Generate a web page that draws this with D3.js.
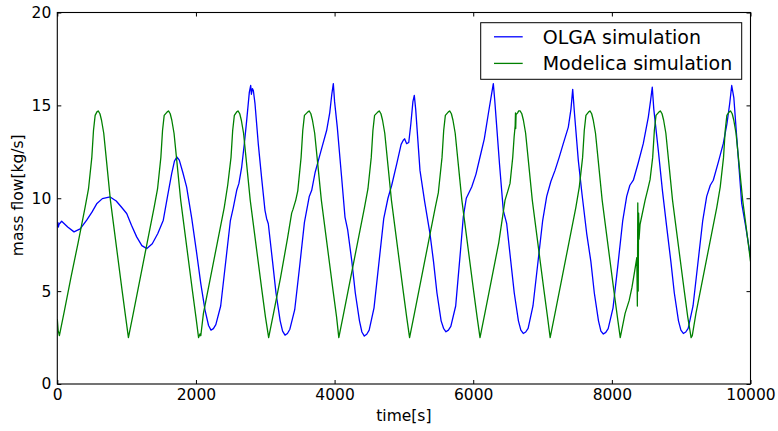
<!DOCTYPE html>
<html>
<head>
<meta charset="utf-8">
<script src="https://cdn.jsdelivr.net/npm/d3@7/dist/d3.min.js"></script>
<style>
  html, body { margin: 0; padding: 0; background: #fff; }
  svg { display: block; }
  text { font-family: "DejaVu Sans", sans-serif; fill: #000; }
</style>
</head>
<body>
<svg id="chart" width="778" height="431"></svg>
<script>
// ---- data ----
const xTicks = [0, 2000, 4000, 6000, 8000, 10000];
const yTicks = [0, 5, 10, 15, 20];
const seriesNames = ["OLGA simulation", "Modelica simulation"];

const olgaTime = [0, 8, 15, 25, 63, 150, 241, 330, 424, 500, 568, 650, 762, 850, 930, 1001, 1070, 1145, 1220, 1292,
  1370, 1450, 1529, 1590, 1650, 1690, 1725, 1760, 1810, 1866,
  1940, 2011, 2070, 2131, 2182, 2217, 2252, 2287, 2357, 2427, 2497, 2539, 2588, 2620, 2660, 2700, 2732, 2770, 2790, 2800,
  2814, 2828, 2852, 2900, 2950, 2996, 3020, 3044,
  3105, 3155, 3215, 3250, 3285, 3320, 3355, 3425, 3495, 3565, 3635, 3670, 3720, 3800, 3886, 3930, 3960, 3982, 4000, 4039,
  4100, 4150, 4189, 4249, 4299, 4359, 4394, 4429, 4464, 4499, 4569, 4639, 4709, 4770, 4824, 4900, 4960, 4991, 5010, 5040,
  5070, 5100, 5130, 5150, 5170, 5232, 5300, 5376, 5427, 5477, 5537, 5572, 5607, 5642, 5677, 5747, 5817, 5857, 5900, 5978,
  6040, 6098, 6160, 6218, 6260, 6290, 6310, 6340, 6380, 6434, 6483, 6542, 6592, 6652, 6687, 6722, 6757, 6792, 6862, 6932,
  7002, 7060, 7120, 7180, 7240, 7299, 7372, 7410, 7435, 7460, 7516, 7570, 7637, 7697, 7747, 7807, 7842, 7877, 7912, 7947,
  8017, 8087, 8157, 8214, 8260, 8310, 8380, 8453, 8526, 8560, 8583, 8605, 8670, 8730, 8791, 8851, 8901, 8961, 8996, 9031,
  9066, 9101, 9171, 9241, 9311, 9368, 9420, 9463, 9540, 9607, 9660, 9700, 9729, 9760, 9801, 9873, 9930, 10000];
const olgaFlow = [8.46, 8.7, 8.45, 8.6, 8.76, 8.45, 8.19, 8.35, 8.82, 9.25, 9.7, 9.98, 10.07, 9.85, 9.5, 9.18, 8.55, 7.92, 7.45, 7.29,
  7.55, 8.1, 8.82, 10.1, 11.33, 12.0, 12.22, 12.05, 11.4, 10.6,
  8.9, 7.03, 5.4, 3.98, 3.15, 2.9, 2.98, 3.2, 4.2, 6.5, 8.8, 9.5, 10.43, 10.8, 11.68, 13.0, 14.19, 15.7, 16.07, 15.6,
  15.9, 15.8, 15.09, 12.9, 11.0, 9.35, 8.9, 8.63,
  6.6, 4.9, 3.4, 2.85, 2.63, 2.72, 2.95, 4.0, 6.3, 8.7, 10.1, 10.43, 11.4, 12.5, 13.66, 14.6, 15.6, 16.17, 15.2, 13.83,
  11.2, 8.99, 8.3, 6.6, 4.9, 3.4, 2.8, 2.58, 2.68, 2.9, 4.1, 6.5, 8.9, 10.0, 10.7, 11.9, 12.9, 13.12, 13.2, 12.94,
  13.0, 14.0, 15.2, 15.54, 14.8, 11.5, 9.8, 8.1, 6.6, 4.9, 3.4, 3.0, 2.81, 2.9, 3.1, 4.2, 7.2, 9.0, 10.0, 10.61,
  11.3, 12.22, 13.2, 14.55, 15.5, 16.17, 15.3, 13.8, 11.8, 9.35, 8.63, 6.6, 4.9, 3.4, 2.9, 2.72, 2.8, 3.0, 4.2, 6.5,
  8.8, 10.1, 10.9, 11.5, 12.2, 12.94, 13.83, 14.8, 15.86, 14.6, 12.04, 10.2, 8.1, 6.6, 4.9, 3.4, 2.85, 2.69, 2.78, 2.98,
  4.1, 6.4, 8.8, 10.1, 10.7, 10.97, 11.9, 12.94, 14.37, 15.3, 15.98, 14.8, 12.58, 10.4, 8.46, 6.6, 4.9, 3.4, 2.9, 2.72,
  2.8, 3.0, 4.2, 6.5, 8.8, 10.1, 10.7, 10.97, 12.0, 12.94, 14.0, 15.1, 16.07, 15.4, 13.3, 9.72, 8.5, 6.84];

const modelicaTime = [0, 12, 30, 100, 200, 300, 400, 450, 498, 522, 546, 572, 590, 615, 638, 670, 718, 766, 856, 936, 986,
  1026, 1096, 1196, 1296, 1396, 1446, 1494, 1518, 1542, 1586, 1604, 1629, 1652, 1684, 1732, 1780, 1870, 1950, 2000,
  2038, 2060, 2070, 2108, 2208, 2308, 2408, 2458, 2506, 2530, 2554, 2589, 2607, 2632, 2655, 2687, 2735, 2783, 2873, 2953, 3003,
  3049, 3119, 3219, 3319, 3381, 3400, 3440, 3469, 3517, 3541, 3565, 3615, 3633, 3658, 3681, 3713, 3761, 3809, 3899, 3979, 4029,
  4061, 4131, 4231, 4331, 4431, 4481, 4529, 4553, 4577, 4626, 4644, 4669, 4692, 4724, 4772, 4820, 4910, 4990, 5040,
  5082, 5152, 5252, 5352, 5452, 5497, 5502, 5550, 5574, 5598, 5642, 5660, 5685, 5708, 5740, 5788, 5836, 5926, 6006, 6056,
  6098, 6168, 6268, 6368, 6459, 6500, 6531, 6570, 6590, 6605, 6610, 6613, 6618, 6640, 6656, 6676, 6701, 6724, 6756, 6804, 6852, 6942, 7022, 7072,
  7110, 7180, 7280, 7380, 7480, 7530, 7578, 7602, 7626, 7666, 7684, 7709, 7732, 7764, 7812, 7860, 7950, 8030, 8080,
  8121, 8191, 8250, 8290, 8330, 8360, 8368, 8374, 8380, 8386, 8392, 8407, 8480, 8520, 8551, 8589, 8613, 8637, 8681, 8699,
  8724, 8747, 8779, 8827, 8875, 8965, 9045, 9095,
  9143, 9160, 9213, 9313, 9413, 9513, 9563, 9611, 9635, 9659, 9693, 9711, 9736, 9759, 9791, 9839, 9887, 9977, 10000];
const modelicaFlow = [3.5, 2.9, 2.6, 3.9, 5.8, 7.6, 9.5, 10.5, 12.2, 13.65, 14.46, 14.65, 14.7, 14.55, 14.2, 13.5, 11.7, 9.9, 7.3, 5.0, 3.6,
  2.5, 3.8, 5.7, 7.6, 9.5, 10.5, 12.2, 13.65, 14.46, 14.65, 14.7, 14.55, 14.2, 13.5, 11.7, 9.9, 7.3, 5.0, 3.6,
  2.5, 2.7, 2.6, 3.8, 5.7, 7.6, 9.5, 10.7, 12.2, 13.65, 14.46, 14.65, 14.7, 14.55, 14.2, 13.5, 11.7, 9.9, 7.3, 5.0, 3.6,
  2.5, 3.8, 5.7, 7.8, 9.2, 9.4, 9.9, 10.4, 12.2, 13.65, 14.46, 14.65, 14.7, 14.55, 14.2, 13.5, 11.7, 9.9, 7.3, 5.0, 3.6,
  2.5, 3.8, 5.7, 7.6, 9.5, 10.5, 12.2, 13.65, 14.46, 14.65, 14.7, 14.55, 14.2, 13.5, 11.7, 9.9, 7.3, 5.0, 3.6,
  2.5, 3.8, 5.7, 7.6, 9.5, 10.3, 10.5, 12.2, 13.65, 14.46, 14.65, 14.7, 14.55, 14.2, 13.5, 11.7, 9.9, 7.3, 5.0, 3.6,
  2.5, 3.8, 5.7, 7.6, 9.9, 10.4, 10.8, 12.2, 13.3, 13.9, 14.6, 13.75, 14.5, 14.6, 14.7, 14.7, 14.55, 14.2, 13.5, 11.7, 9.9, 7.3, 5.0, 3.6,
  2.5, 3.8, 5.7, 7.6, 9.5, 10.6, 12.2, 13.65, 14.46, 14.65, 14.7, 14.55, 14.2, 13.5, 11.7, 9.9, 7.3, 5.0, 3.6,
  2.5, 3.8, 4.5, 5.2, 6.1, 6.8, 4.2, 9.75, 5.0, 9.2, 7.8, 8.6, 9.9, 10.5, 11.0, 12.2, 13.65, 14.46, 14.65, 14.7,
  14.55, 14.2, 13.5, 11.7, 9.9, 7.3, 5.0, 3.6,
  2.5, 2.6, 3.8, 5.7, 7.6, 9.5, 10.6, 12.2, 13.65, 14.46, 14.65, 14.7, 14.55, 14.2, 13.5, 11.7, 9.9, 7.3, 6.6];

const seriesColors = ["#0000ff", "#008000"];

// ---- drawing ----
const svg = d3.select("#chart");
const plot = { left: 57.3, right: 750.5, top: 12.5, bottom: 384 };

const x = d3.scaleLinear().domain([0, 10000]).range([plot.left, plot.right]);
const y = d3.scaleLinear().domain([0, 20]).range([plot.bottom, plot.top]);

svg.append("defs").append("clipPath").attr("id", "clip")
  .append("rect")
  .attr("x", plot.left).attr("y", plot.top)
  .attr("width", plot.right - plot.left).attr("height", plot.bottom - plot.top);

const series = [
  { name: seriesNames[0], color: seriesColors[0], t: olgaTime, v: olgaFlow },
  { name: seriesNames[1], color: seriesColors[1], t: modelicaTime, v: modelicaFlow }
];

const line = d3.line().x(d => x(d[0])).y(d => y(d[1]));

const lines = svg.append("g").attr("clip-path", "url(#clip)");
series.forEach(s => {
  const pts = s.t.map((t, i) => [t, s.v[i]]);
  lines.append("path")
    .datum(pts)
    .attr("d", line)
    .attr("fill", "none")
    .attr("stroke", s.color)
    .attr("stroke-width", 1.3)
    .attr("stroke-linejoin", "round");
});

// axes with inward ticks on all four sides
const tickLen = 4;
const fontSize = "15.5px";

const bottomAxis = svg.append("g").attr("transform", `translate(0,${plot.bottom})`)
  .call(d3.axisBottom(x).tickValues(xTicks).tickSize(-tickLen).tickPadding(8).tickFormat(d3.format("d")));
const topAxis = svg.append("g").attr("transform", `translate(0,${plot.top})`)
  .call(d3.axisTop(x).tickValues(xTicks).tickSize(-tickLen).tickFormat(""));
const leftAxis = svg.append("g").attr("transform", `translate(${plot.left},0)`)
  .call(d3.axisLeft(y).tickValues(yTicks).tickSize(-tickLen).tickPadding(8).tickFormat(d3.format("d")));
const rightAxis = svg.append("g").attr("transform", `translate(${plot.right},0)`)
  .call(d3.axisRight(y).tickValues(yTicks).tickSize(-tickLen).tickFormat(""));

[bottomAxis, topAxis, leftAxis, rightAxis].forEach(g => {
  g.select(".domain").remove();
  g.selectAll(".tick line").attr("stroke", "#000").attr("stroke-width", 1);
  g.selectAll("text").style("font-size", fontSize).style("font-family", "DejaVu Sans").attr("fill", "#000");
});
bottomAxis.selectAll("text").attr("dy", "0.71em").attr("y", 5);
leftAxis.selectAll("text").attr("x", -6);

// frame
svg.append("rect")
  .attr("x", plot.left).attr("y", plot.top)
  .attr("width", plot.right - plot.left).attr("height", plot.bottom - plot.top)
  .attr("fill", "none").attr("stroke", "#000").attr("stroke-width", 1.1);

// axis labels
svg.append("text")
  .attr("x", (plot.left + plot.right) / 2).attr("y", 421)
  .attr("text-anchor", "middle").style("font-size", fontSize)
  .text("time[s]");
svg.append("text")
  .attr("transform", `translate(23,${(plot.top + plot.bottom) / 2 - 3}) rotate(-90)`)
  .attr("text-anchor", "middle").style("font-size", fontSize)
  .text("mass flow[kg/s]");

// legend
const legend = svg.append("g");
legend.append("rect")
  .attr("x", 480.7).attr("y", 22.7).attr("width", 261).attr("height", 56.6)
  .attr("fill", "#fff").attr("stroke", "#000").attr("stroke-width", 1);
series.forEach((s, i) => {
  const cy = 36.8 + i * 26.6;
  legend.append("line")
    .attr("x1", 494).attr("x2", 522.7).attr("y1", cy).attr("y2", cy)
    .attr("stroke", s.color).attr("stroke-width", 1.3);
  legend.append("text")
    .attr("x", 542.7).attr("y", cy + 7)
    .style("font-size", "19px")
    .text(s.name);
});
</script>
</body>
</html>
